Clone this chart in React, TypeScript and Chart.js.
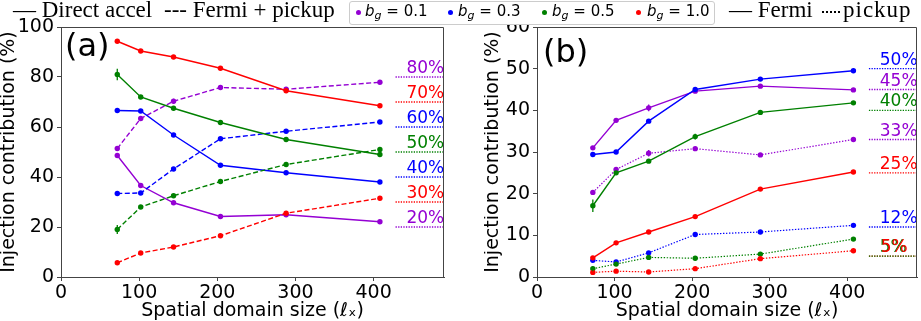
import React, { useEffect, useRef } from 'react';
import { Chart, registerables } from 'chart.js';
Chart.register(...registerables);

// ---------- data ----------
const xs = [72, 102, 144, 204, 288, 408];

// panel (a): Direct accel (solid) and Fermi + pickup (dashed)
const directRed = [94.3, 90.4, 88.0, 83.5, 74.5, 68.5];
const fermiPickupRed = [5.7, 9.6, 12.0, 16.5, 25.5, 31.5];
const directGreen = [81.0, 72.0, 67.5, 61.8, 55.0, 49.0];
const fermiPickupGreen = [19.0, 28.0, 32.5, 38.2, 45.0, 51.0];
const directBlue = [66.6, 66.4, 56.8, 44.7, 41.7, 38.0];
const fermiPickupBlue = [33.4, 33.6, 43.2, 55.3, 58.3, 62.0];
const directPurple = [48.6, 36.6, 29.7, 24.2, 24.9, 22.1];
const fermiPickupPurple = [51.4, 63.4, 70.3, 75.8, 75.1, 77.9];

const errDirectGreen = [2.3, 0, 0, 1.0, 0, 0];
const errFermiGreen = [1.8, 0, 0, 0.8, 0, 0];
const errFermiPurple = [0, 0, 1.0, 0, 0, 0];

// panel (b): Fermi (solid) and pickup (dotted)
const fermiPurple = [31.0, 37.6, 40.6, 44.6, 45.8, 44.9];
const pickupPurple = [20.3, 25.8, 29.7, 30.8, 29.3, 33.0];
const fermiBlue = [29.4, 30.0, 37.4, 45.0, 47.5, 49.5];
const pickupBlue = [4.0, 3.6, 5.8, 10.2, 10.8, 12.4];
const fermiGreen = [17.1, 25.0, 27.8, 33.7, 39.5, 41.8];
const pickupGreen = [2.0, 3.1, 4.7, 4.5, 5.5, 9.1];
const fermiRed = [4.6, 8.2, 10.8, 14.5, 21.1, 25.2];
const pickupRed = [1.1, 1.4, 1.2, 2.0, 4.4, 6.3];

const errFermiGreenB = [1.5, 0, 0, 0.7, 0, 0];
const errFermiPurpleB = [0, 0, 0.8, 0, 0, 0];
const errPickupPurpleB = [0, 0, 0.8, 0, 0, 0];
const errPickupGreenB = [0.6, 0, 0, 0.5, 0, 0];

// reference labels
const refTextA = ['80%', '70%', '60%', '50%', '40%', '30%', '20%'];
const refValA = [80, 70, 60, 50, 40, 30, 20];
const refTextB = ['50%', '45%', '40%', '33%', '25%', '12%', '5%', '5%'];
const refValB = [50, 45, 40, 33, 25, 12, 5, 5];

const xTicks = [0, 100, 200, 300, 400];
const yTicksA = [0, 20, 40, 60, 80, 100];
const yTicksB = [0, 10, 20, 30, 40, 50, 60];
const bgLegend = ['0.1', '0.3', '0.5', '1.0'];

// ---------- styles ----------
const PURPLE = '#9400d3';
const BLUE = '#0000ff';
const GREEN = '#008000';
const RED = '#ff0000';
const refColA = [PURPLE, RED, BLUE, GREEN, BLUE, RED, PURPLE];
const refColB = [BLUE, PURPLE, GREEN, PURPLE, RED, BLUE, GREEN, RED];
const legendCols = [PURPLE, BLUE, GREEN, RED];
const FONT = '"DejaVu Sans", sans-serif';
const SERIF = '"Liberation Serif", "DejaVu Serif", serif';
const AX_SIZE = 19;
const X_MAX = 490;
const REF_X0 = 428;
const LABEL_X = 442;

function series(vals: number[], color: string, dash: number[], errors?: number[], width = 1.4) {
  return {
    data: xs.map((x, i) => ({ x, y: vals[i] })),
    borderColor: color,
    backgroundColor: color,
    borderWidth: width,
    borderDash: dash,
    pointRadius: 2.7,
    pointBorderWidth: 0,
    pointBackgroundColor: color,
    errors,
  };
}

function refLine(v: number, color: string) {
  return {
    data: [{ x: REF_X0, y: v }, { x: X_MAX, y: v }],
    borderColor: color,
    borderWidth: 1.3,
    borderDash: [1.3, 1.3],
    pointRadius: 0,
  };
}

function makePlugin(letter: string, ldx: number, ldy: number, texts: string[], vals: number[], cols: string[], dxs: number[]) {
  return {
    id: 'extras' + letter,
    afterDatasetsDraw(chart: any) {
      const { ctx, chartArea: ca, scales } = chart;
      const xS = scales.x, yS = scales.y;
      ctx.save();
      ctx.setLineDash([]);
      chart.data.datasets.forEach((ds: any) => {
        if (!ds.errors) return;
        ctx.strokeStyle = ds.borderColor;
        ctx.lineWidth = 1.3;
        ds.errors.forEach((e: number, i: number) => {
          if (!e) return;
          const p = ds.data[i];
          const px = xS.getPixelForValue(p.x);
          ctx.beginPath();
          ctx.moveTo(px, yS.getPixelForValue(p.y - e));
          ctx.lineTo(px, yS.getPixelForValue(p.y + e));
          ctx.stroke();
        });
      });
      ctx.font = '17px ' + FONT;
      ctx.textAlign = 'left';
      ctx.textBaseline = 'alphabetic';
      texts.forEach((t, i) => {
        ctx.fillStyle = cols[i];
        ctx.fillText(t, xS.getPixelForValue(LABEL_X) + dxs[i], yS.getPixelForValue(vals[i]) - 4);
      });
      ctx.font = '32px ' + FONT;
      ctx.fillStyle = '#000';
      ctx.fillText(letter, ca.left + ldx, ca.top + ldy);
      ctx.strokeStyle = '#444';
      ctx.lineWidth = 1;
      ctx.beginPath();
      ctx.moveTo(Math.round(ca.left), Math.round(ca.top) + 0.5);
      ctx.lineTo(Math.round(ca.right) - 0.5, Math.round(ca.top) + 0.5);
      ctx.lineTo(Math.round(ca.right) - 0.5, Math.round(ca.bottom));
      ctx.stroke();
      ctx.restore();
    },
  };
}

function makeConfig(datasets: any[], yMax: number, yTicks: number[], yWidth: number, padRight: number, plugin: any): any {
  return {
    type: 'line',
    data: { datasets },
    plugins: [plugin],
    options: {
      animation: false,
      responsive: false,
      layout: { padding: { top: 27, right: padRight, left: 0, bottom: 0 } },
      plugins: { legend: { display: false }, tooltip: { enabled: false } },
      scales: {
        x: {
          type: 'linear',
          min: 0,
          max: X_MAX,
          afterBuildTicks: (s: any) => { s.ticks = xTicks.map((v) => ({ value: v })); },
          afterFit: (s: any) => { s.height = 44; },
          ticks: { font: { family: FONT, size: AX_SIZE }, color: '#000', padding: 1, maxRotation: 0 },
          grid: { drawOnChartArea: false, tickLength: 4, color: '#444', tickColor: '#444' },
          border: { color: '#444', width: 1 },
          title: { display: true, text: 'Spatial domain size (ℓₓ)', font: { family: FONT, size: AX_SIZE, lineHeight: 1 }, color: '#000', padding: { top: 0, bottom: 0 } },
        },
        y: {
          min: 0,
          max: yMax,
          afterBuildTicks: (s: any) => { s.ticks = yTicks.map((v) => ({ value: v })); },
          afterFit: (s: any) => { s.width = yWidth; },
          ticks: { font: { family: FONT, size: AX_SIZE }, color: '#000', padding: 3 },
          grid: { drawOnChartArea: false, tickLength: 4, color: '#444', tickColor: '#444' },
          border: { color: '#444', width: 1 },
          title: { display: true, text: 'Injection contribution (%)', font: { family: FONT, size: AX_SIZE, lineHeight: 1 }, color: '#000', padding: { top: 0, bottom: 0 } },
        },
      },
    },
  };
}

export default function App() {
  const refA = useRef<HTMLCanvasElement>(null);
  const refB = useRef<HTMLCanvasElement>(null);

  useEffect(() => {
    document.body.style.margin = '0';
    const dash = [5, 2.5];
    const dot = [1.4, 1.6];
    const dsA = [
      series(directRed, RED, []),
      series(fermiPickupRed, RED, dash),
      series(directGreen, GREEN, [], errDirectGreen),
      series(fermiPickupGreen, GREEN, dash, errFermiGreen),
      series(directBlue, BLUE, []),
      series(fermiPickupBlue, BLUE, dash),
      series(directPurple, PURPLE, []),
      series(fermiPickupPurple, PURPLE, dash, errFermiPurple),
      ...refValA.map((v, i) => refLine(v, refColA[i])),
    ];
    const dsB = [
      series(fermiRed, RED, []),
      series(pickupRed, RED, dot, undefined, 1.2),
      series(fermiGreen, GREEN, [], errFermiGreenB),
      series(pickupGreen, GREEN, dot, errPickupGreenB, 1.2),
      series(fermiBlue, BLUE, []),
      series(pickupBlue, BLUE, dot, undefined, 1.2),
      series(fermiPurple, PURPLE, [], errFermiPurpleB),
      series(pickupPurple, PURPLE, dot, errPickupPurpleB, 1.2),
      ...refValB.map((v, i) => refLine(v, refColB[i])),
    ];
    const pA = makePlugin('(a)', 4, 29, refTextA, refValA, refColA, refValA.map(() => 0));
    const pB = makePlugin('(b)', 6, 35, refTextB, refValB, refColB, refValB.map((_, i) => (i === 7 ? 1 : 0)));
    const cA = new Chart(refA.current!, makeConfig(dsA, 100, yTicksA, 61, 6, pA));
    const cB = new Chart(refB.current!, makeConfig(dsB, 60, yTicksB, 53, 1, pB));
    return () => { cA.destroy(); cB.destroy(); };
  }, []);

  const serifStyle: React.CSSProperties = { position: 'absolute', top: -2, font: '23px ' + SERIF, lineHeight: '23px', whiteSpace: 'pre', color: '#000' };
  const dotX = [358, 450, 544, 638];
  const txtX = [365, 458, 552, 647];

  return (
    <div style={{ position: 'absolute', left: 0, top: 0, width: 921, height: 321, background: '#fff', overflow: 'hidden' }}>
      <canvas ref={refA} width={450} height={321} style={{ position: 'absolute', left: 0, top: 0, width: 450, height: 321 }} />
      <canvas ref={refB} width={437} height={321} style={{ position: 'absolute', left: 484, top: 0, width: 437, height: 321 }} />
      <div style={{ ...serifStyle, left: 13 }}>— Direct accel</div>
      <div style={{ ...serifStyle, left: 164 }}>--- Fermi + pickup</div>
      <div style={{ position: 'absolute', left: 349, top: 1, width: 364, height: 22, border: '1px solid #ccc', borderRadius: 3, background: '#fff' }} />
      {bgLegend.map((b, i) => (
        <React.Fragment key={b}>
          <div style={{ position: 'absolute', left: dotX[i] - 2.5, top: 9.5, width: 5, height: 5, borderRadius: '50%', background: legendCols[i] }} />
          <div style={{ position: 'absolute', left: txtX[i], top: 2, font: '15px ' + FONT, lineHeight: '18px', whiteSpace: 'pre', color: '#000' }}>
            <i>b</i><sub style={{ fontSize: '11px', verticalAlign: '-3px' }}><i>g</i></sub> = {b}
          </div>
        </React.Fragment>
      ))}
      <div style={{ ...serifStyle, left: 729 }}>— Fermi</div>
      <div style={{ position: 'absolute', left: 822, top: 11, width: 18, height: 0, borderTop: '2px dotted #000' }} />
      <div style={{ ...serifStyle, left: 843, letterSpacing: '1px' }}>pickup</div>
    </div>
  );
}
